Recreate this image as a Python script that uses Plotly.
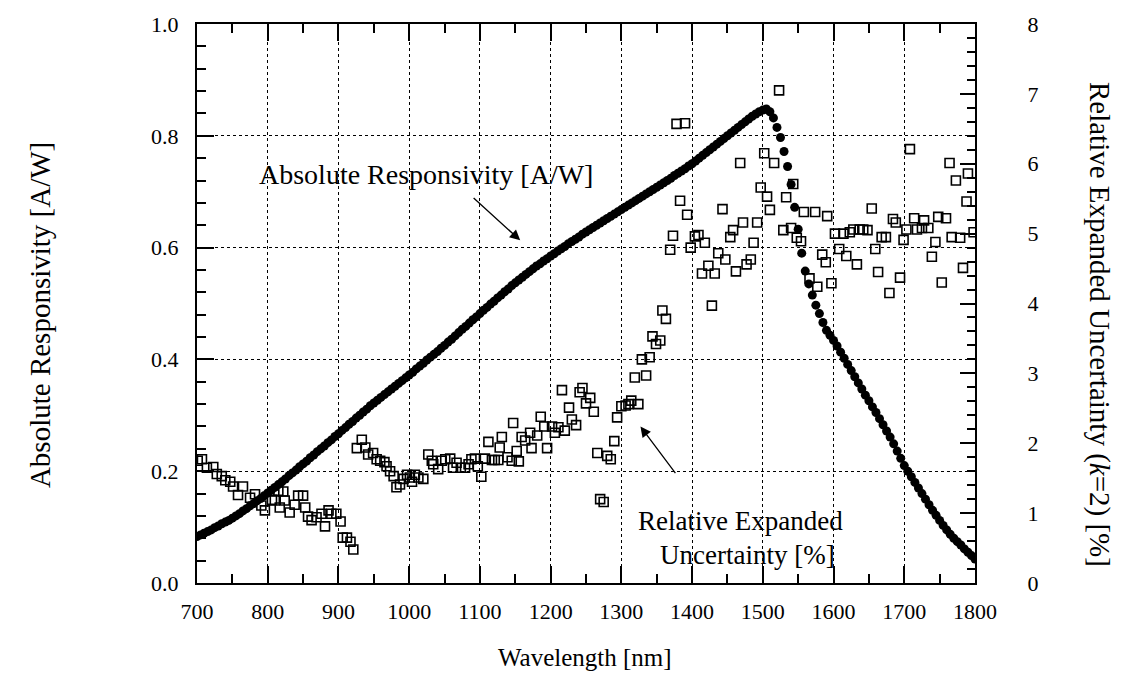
import numpy as np
import plotly.graph_objects as go

# Absolute responsivity [A/W], sampled every 5 nm from 700 to 1800 nm
resp_wl = np.arange(700, 1805, 5)
resp_val = [
    0.083, 0.086, 0.089, 0.092, 0.095, 0.099, 0.102, 0.106, 0.109, 0.112,
    0.116, 0.120, 0.124, 0.129, 0.133, 0.138, 0.142, 0.147, 0.151, 0.156,
    0.161, 0.166, 0.171, 0.176, 0.181, 0.186, 0.192, 0.197, 0.202, 0.208,
    0.213, 0.218, 0.224, 0.229, 0.235, 0.240, 0.245, 0.251, 0.256, 0.262,
    0.267, 0.273, 0.278, 0.284, 0.289, 0.295, 0.300, 0.306, 0.311, 0.317,
    0.322, 0.327, 0.332, 0.337, 0.342, 0.347, 0.352, 0.357, 0.362, 0.367,
    0.372, 0.377, 0.383, 0.388, 0.393, 0.399, 0.404, 0.409, 0.414, 0.420,
    0.425, 0.431, 0.436, 0.442, 0.448, 0.454, 0.459, 0.465, 0.471, 0.476,
    0.482, 0.488, 0.493, 0.499, 0.504, 0.510, 0.515, 0.521, 0.526, 0.532,
    0.537, 0.542, 0.547, 0.552, 0.557, 0.562, 0.567, 0.571, 0.576, 0.580,
    0.585, 0.589, 0.594, 0.598, 0.602, 0.607, 0.611, 0.615, 0.619, 0.624,
    0.628, 0.632, 0.636, 0.640, 0.644, 0.648, 0.652, 0.656, 0.660, 0.664,
    0.668, 0.672, 0.676, 0.680, 0.684, 0.688, 0.692, 0.696, 0.700, 0.704,
    0.708, 0.712, 0.716, 0.720, 0.724, 0.729, 0.733, 0.737, 0.741, 0.746,
    0.750, 0.755, 0.760, 0.765, 0.770, 0.775, 0.780, 0.785, 0.790, 0.795,
    0.800, 0.805, 0.810, 0.815, 0.820, 0.825, 0.830, 0.835, 0.839, 0.843,
    0.846, 0.848, 0.843, 0.832, 0.815, 0.797, 0.772, 0.745, 0.713, 0.672,
    0.633, 0.590, 0.558, 0.535, 0.515, 0.497, 0.482, 0.466, 0.452, 0.443,
    0.434, 0.424, 0.413, 0.402, 0.391, 0.380, 0.369, 0.358, 0.347, 0.336,
    0.326, 0.315, 0.305, 0.294, 0.283, 0.272, 0.261, 0.249, 0.236, 0.223,
    0.210, 0.200, 0.190, 0.180, 0.170, 0.160, 0.150, 0.140, 0.130, 0.121,
    0.112, 0.103, 0.095, 0.087, 0.080, 0.074, 0.068, 0.061, 0.055, 0.049,
    0.043,
]

# Relative expanded uncertainty (k=2) [%]
unc_wl = [
    701, 707, 714, 723, 728, 735, 740, 747, 751, 758, 765, 775, 782, 791, 796,
    806, 810, 815, 817, 822, 824, 831, 838, 843, 850, 853, 857, 862, 869, 876,
    881, 886, 890, 897, 903, 906, 912, 917, 921,
    926, 933, 938, 942, 949, 954, 959, 965, 968, 973, 978, 982, 987, 992, 997,
    1001, 1004, 1008, 1013, 1020, 1027, 1032, 1034, 1041, 1046, 1051, 1058,
    1062, 1067, 1073, 1079, 1084, 1088, 1093, 1097, 1102, 1107, 1112, 1117,
    1121, 1126, 1128, 1131, 1139, 1145, 1147, 1152, 1155, 1159, 1164, 1171,
    1173, 1181, 1186, 1191, 1195, 1202, 1206, 1211, 1216, 1220, 1226, 1230,
    1236, 1241, 1245, 1250, 1256, 1261, 1266, 1270, 1275, 1280, 1285, 1290,
    1294, 1300, 1306, 1310, 1314, 1319, 1324, 1329, 1335, 1340, 1344, 1349,
    1355, 1358, 1363, 1369, 1373, 1378, 1383, 1390, 1393, 1398, 1404, 1409,
    1414, 1418, 1423, 1428, 1432, 1437, 1443, 1447, 1454, 1458, 1462, 1468,
    1472, 1477, 1483, 1487, 1492, 1497, 1502, 1506, 1510, 1516, 1523, 1529,
    1533, 1540, 1543, 1548, 1554, 1558, 1566, 1574, 1577, 1584, 1589, 1591,
    1597, 1602, 1608, 1614, 1618, 1623, 1628, 1633, 1637, 1642, 1648, 1654,
    1659, 1663, 1668, 1674, 1679, 1684, 1688, 1694, 1699, 1703, 1708, 1714,
    1718, 1725, 1728, 1734, 1739, 1744, 1748, 1753, 1759, 1764, 1767, 1773,
    1779, 1783, 1788, 1790, 1798,
]
unc_val = [
    1.75, 1.77, 1.65, 1.66, 1.56, 1.53, 1.47, 1.45, 1.38, 1.26, 1.38, 1.22, 1.27, 1.11, 1.04,
    1.19, 1.18, 1.32, 1.08, 1.31, 1.18, 1.01, 1.12, 1.25, 1.25, 1.08, 0.95, 0.90, 0.94, 0.99,
    0.81, 1.04, 0.99, 0.99, 0.88, 0.65, 0.65, 0.59, 0.48,
    1.93, 2.05, 1.94, 1.84, 1.86, 1.77, 1.75, 1.73, 1.67, 1.60, 1.53, 1.37, 1.41, 1.49, 1.55,
    1.51, 1.45, 1.55, 1.51, 1.49, 1.84, 1.75, 1.70, 1.63, 1.75, 1.77, 1.78,
    1.65, 1.72, 1.65, 1.65, 1.70, 1.77, 1.78, 1.67, 1.52, 1.78, 2.02, 1.76,
    1.76, 1.76, 1.94, 2.09, 1.80, 1.75, 2.29, 1.89, 1.74, 2.09, 2.04, 2.15,
    1.93, 2.11, 2.38, 2.24, 1.93, 2.24, 2.15, 2.23, 2.76, 2.18, 2.51, 2.34,
    2.26, 2.73, 2.79, 2.57, 2.65, 2.45, 1.86, 1.20, 1.16, 1.82, 1.77, 2.03,
    2.37, 2.53, 2.54, 2.56, 2.61, 2.94, 2.56, 3.20, 2.97, 3.23, 3.53, 3.42,
    3.47, 3.90, 3.78, 4.77, 4.97, 6.57, 5.47, 6.58, 5.27, 4.80, 4.96, 4.98,
    4.43, 4.87, 4.54, 3.97, 4.43, 4.72, 5.35, 4.63, 4.95, 5.05, 4.46, 6.01,
    5.16, 4.56, 4.63, 4.87, 5.16, 5.66, 6.15, 5.53, 5.34, 6.01, 7.05, 5.05,
    5.52, 5.08, 5.71, 4.94, 4.89, 5.31, 4.36, 5.31, 4.24, 4.70, 4.59, 5.25,
    4.29, 5.00, 4.78, 5.00, 4.68, 5.02, 5.06, 4.56, 5.06, 5.06, 5.05, 5.36,
    4.78, 4.45, 4.95, 4.95, 4.15, 5.21, 5.16, 4.37, 4.91, 5.06, 6.21, 5.22,
    5.06, 5.08, 5.19, 5.08, 4.67, 4.88, 5.24, 4.30, 5.22, 6.01, 4.95, 5.76,
    4.94, 4.51, 5.46, 5.86, 5.02,
]

serif = "Liberation Serif"

fig = go.Figure()

fig.add_trace(go.Scatter(
    x=unc_wl, y=unc_val, yaxis="y2",
    mode="markers",
    marker=dict(symbol="square-open", size=9, color="black", line=dict(width=1.6, color="black")),
    name="Relative Expanded Uncertainty",
))

fig.add_trace(go.Scatter(
    x=resp_wl, y=resp_val,
    mode="markers",
    marker=dict(symbol="circle", size=9, color="black"),
    name="Absolute Responsivity",
))

fig.update_layout(
    width=1136, height=690,
    margin=dict(l=197, r=161, t=17, b=107),
    paper_bgcolor="white", plot_bgcolor="white",
    showlegend=False,
    font=dict(family=serif, size=22, color="black"),
    xaxis=dict(
        range=[700, 1800], dtick=100, tick0=700,
        showline=True, linecolor="black", linewidth=2, mirror="ticks",
        ticks="inside", ticklen=17, tickwidth=1.5, tickcolor="black",
        ticklabelstandoff=8,
        showgrid=True, gridcolor="black", gridwidth=1, griddash="dot",
        zeroline=False,
        minor=dict(dtick=50, ticks="inside", ticklen=9, tickwidth=1.5, tickcolor="black", showgrid=False),
    ),
    yaxis=dict(
        range=[0, 1.0], dtick=0.2, tickformat=".1f",
        showline=True, linecolor="black", linewidth=2,
        ticks="inside", ticklen=17, tickwidth=1.5, tickcolor="black",
        ticklabelstandoff=12,
        showgrid=True, gridcolor="black", gridwidth=1, griddash="dot",
        zeroline=False,
        minor=dict(dtick=0.04, ticks="inside", ticklen=9, tickwidth=1.5, tickcolor="black", showgrid=False),
    ),
    yaxis2=dict(
        range=[0, 8], dtick=1, overlaying="y", side="right",
        showline=True, linecolor="black", linewidth=2,
        ticks="inside", ticklen=15, tickwidth=1.5, tickcolor="black",
        ticklabelstandoff=46,
        showgrid=False, zeroline=False,
        minor=dict(dtick=0.2, ticks="inside", ticklen=8, tickwidth=1.5, tickcolor="black", showgrid=False),
    ),
)

# Axis titles
fig.add_annotation(x=0.4987, y=-0.134, xref="paper", yref="paper", showarrow=False,
                   xanchor="center", yanchor="middle",
                   text="Wavelength [nm]", font=dict(size=25))
fig.add_annotation(x=-0.202, y=0.479, xref="paper", yref="paper", showarrow=False,
                   xanchor="center", yanchor="middle",
                   text="Absolute Responsivity [A/W]", textangle=-90, font=dict(size=29))
fig.add_annotation(x=1.161, y=0.463, xref="paper", yref="paper", showarrow=False,
                   xanchor="center", yanchor="middle",
                   text="Relative Expanded Uncertainty (<i>k</i>=2) [%]", textangle=90, font=dict(size=29))

# Curve labels with arrows
fig.add_annotation(x=1024, y=0.730, showarrow=False,
                   text="Absolute Responsivity [A/W]", font=dict(size=28))
fig.add_annotation(x=1157, y=0.613, ax=1089, ay=0.691, axref="x", ayref="y",
                   showarrow=True, arrowhead=2, arrowsize=1.6, arrowwidth=1.3, arrowcolor="black", text="")
fig.add_annotation(x=1469, y=0.111, showarrow=False,
                   text="Relative Expanded", font=dict(size=27))
fig.add_annotation(x=1479, y=0.0495, showarrow=False,
                   text="Uncertainty [%]", font=dict(size=27))
fig.add_annotation(x=1327, y=0.280, ax=1378, ay=0.194, axref="x", ayref="y",
                   showarrow=True, arrowhead=2, arrowsize=1.6, arrowwidth=1.3, arrowcolor="black", text="")

# drop the default 8px page margin so the figure fills the window exactly
fig.write_html("out.html", config={"displayModeBar": False},
               post_script="document.body.style.margin = '0';")
